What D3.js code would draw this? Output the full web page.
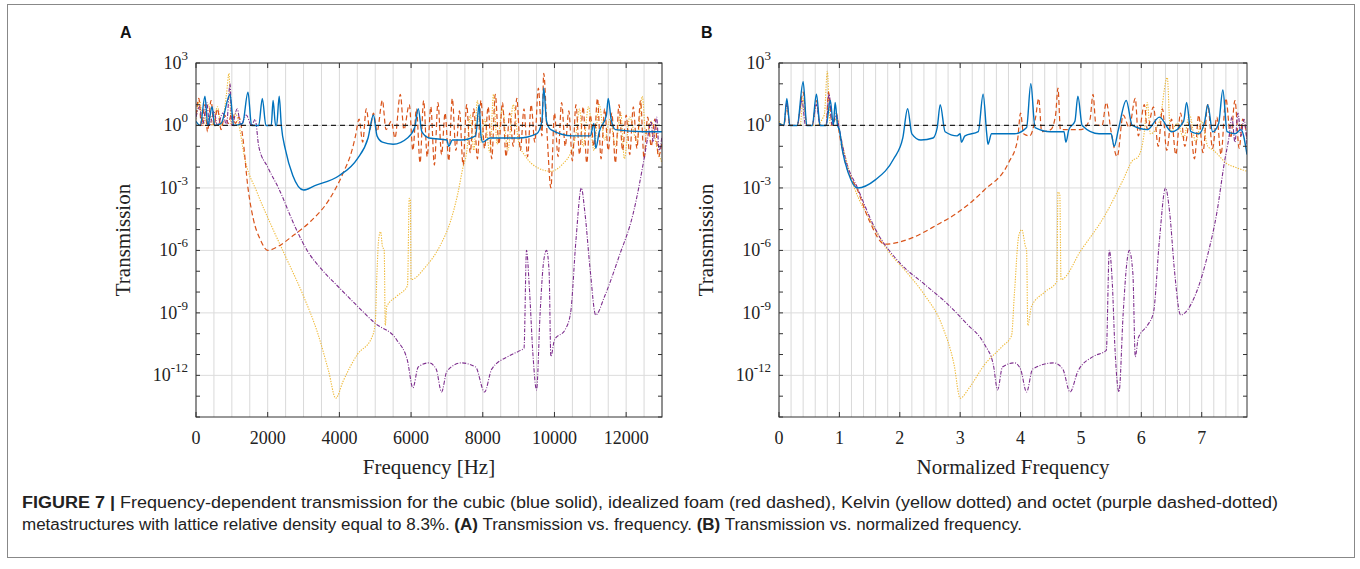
<!DOCTYPE html>
<html><head><meta charset="utf-8">
<script src="https://cdn.jsdelivr.net/npm/d3@7"></script>
<style>body{margin:0;background:#fff}</style>
</head><body>
<svg id="c" width="1360" height="569"></svg>
<script>
// ---------- DATA (x, log10 transmission) ----------
const yTickExps = [3, 0, -3, -6, -9, -12];
const xTicksA = [0, 2000, 4000, 6000, 8000, 10000, 12000];
const xTicksB = [0, 1, 2, 3, 4, 5, 6, 7];

const cubicA = [[0,0.2],[120,0],[250,1.4],[330,0],[450,0.9],[520,0],[700,0.1],[950,1.5],[1050,0],[1300,0.1],[1450,1.6],[1550,0],[1750,0],[1850,1.3],[1950,0],[2100,0],[2150,1.2],[2220,0],[2250,0],[2320,1.4],[2380,0],[2500,-1.2],[2700,-2.4],[3000,-3.1],[3300,-2.9],[4000,-2.4],[4500,-1.6],[4800,-0.6],[4950,0.5],[5050,-0.5],[5200,-0.8],[5500,-0.9],[5900,-0.6],[6100,-0.1],[6200,0.8],[6300,-0.3],[6500,-0.6],[7000,-0.7],[7050,-1.0],[7150,-0.7],[7400,-0.7],[7800,-0.5],[7900,1.0],[7950,-0.5],[8000,-0.8],[8200,-0.6],[9000,-0.6],[9500,-0.4],[9650,0.2],[9700,1.8],[9780,0.2],[9900,-0.2],[10500,-0.5],[11000,-0.5],[11100,0.1],[11150,-1.1],[11250,-0.3],[11450,0.5],[11500,1.3],[11580,0.3],[11700,-0.2],[12500,-0.3],[13000,-0.3]];

const foamA = [[0,0.5],[80,1.3],[150,0],[250,1],[320,-0.3],[420,1.2],[500,0],[600,0.8],[700,-0.2],[800,0.5],[900,0.1],[1000,0.6],[1100,0.1],[1200,0.4],[1300,-0.5],[1450,-3],[1600,-4.5],[1800,-5.5],[2000,-6],[2300,-5.8],[2700,-5.3],[3200,-4.6],[3700,-3.6],[4100,-2.3],[4350,-1.2],[4450,-0.5],[4550,0.3],[4650,-0.8],[4750,0.8],[4850,-0.2],[4950,0.6],[5050,-0.3],[5200,1.2],[5300,-0.2],[5450,0.2],[5550,-0.6],[5700,1.5],[5800,-0.2],[5950,1.0],[6050,-1.2],[6150,0.8],[6250,-1.8],[6350,1.2],[6450,-1.5],[6550,0.9],[6650,-1.9],[6750,1.1],[6850,-1.4],[6950,0.6],[7050,-1.7],[7150,1.3],[7250,-1.2],[7350,0.7],[7450,-1.9],[7550,1.0],[7650,-1.3],[7750,0.8],[7850,-1.6],[7950,1.2],[8050,-1.1],[8150,0.9],[8250,-1.6],[8350,1.5],[8450,-0.9],[8550,1.1],[8650,-1.5],[8750,0.6],[8850,-1.0],[8950,1.3],[9050,-1.2],[9150,0.8],[9250,-1.5],[9350,1.0],[9450,-0.8],[9550,1.8],[9650,-0.5],[9700,2.5],[9800,-0.6],[9900,-3.0],[10000,0.6],[10100,-1.5],[10200,1.1],[10300,-1.0],[10400,0.7],[10500,-1.7],[10600,1.0],[10700,-1.4],[10800,0.9],[10900,-1.8],[11000,0.5],[11100,-1.0],[11200,1.3],[11300,-1.6],[11400,0.8],[11500,-1.2],[11600,0.6],[11700,-1.8],[11800,1.0],[11900,-1.2],[12000,0.5],[12100,-1.4],[12200,0.9],[12300,-1.1],[12400,1.2],[12500,-1.6],[12600,0.4],[12700,-1.0],[12800,0.3],[12900,-1.5],[13000,-0.8]];

const kelvinA = [[0,0.3],[100,1.2],[200,0],[350,1],[450,0],[600,0.9],[700,0],[850,1.5],[920,2.5],[980,0],[1100,0.6],[1200,0],[1350,-1.5],[1700,-3.2],[2100,-4.8],[2500,-6.3],[3000,-8.2],[3400,-10],[3700,-11.8],[3900,-13.1],[4100,-12.3],[4500,-11],[4900,-10.2],[5000,-9.5],[5050,-7],[5100,-5.4],[5150,-5.1],[5200,-5.8],[5250,-6],[5280,-9.6],[5320,-8.7],[5600,-8.2],[5900,-7.7],[5950,-3.5],[5980,-3.6],[6000,-7.4],[6400,-6.8],[6800,-5.8],[7100,-4.6],[7300,-3.3],[7450,-2],[7550,-1.3],[7650,0.5],[7750,-1.2],[7850,1.2],[7950,-0.8],[8050,0.3],[8200,-1.3],[8300,1.5],[8400,-0.9],[8550,0.8],[8700,-1.2],[8850,1.0],[9000,-0.8],[9200,-1.5],[9500,-2],[9900,-2.2],[10200,-1.9],[10500,-1.1],[10600,-0.4],[10700,0.8],[10800,-1.0],[10950,0.9],[11100,-1.2],[11250,1.0],[11400,-0.7],[11550,0.3],[11700,-1.0],[11850,0.6],[11950,-1.6],[12100,0.4],[12300,-0.8],[12450,1.4],[12550,-0.5],[12700,0.2],[12850,-1.0],[13000,-1.8]];

const octetA = [[0,0.4],[100,0.9],[180,0],[300,1.1],[380,0],[500,0.7],[600,0],[750,0.6],[850,0],[950,2.0],[1000,0],[1150,0.8],[1250,0],[1400,0.5],[1550,0],[1650,0.3],[1750,-1],[2000,-2],[2300,-3],[2800,-5],[3100,-6],[3500,-6.9],[4000,-7.8],[4400,-8.5],[5000,-9.5],[5600,-10.3],[5900,-11.3],[6050,-12.6],[6200,-11.6],[6500,-11.4],[6700,-11.7],[6850,-12.8],[7000,-11.8],[7400,-11.4],[7800,-11.6],[8050,-12.8],[8250,-11.7],[8700,-11.1],[9050,-10.8],[9150,-10.7],[9220,-6.0],[9300,-7.8],[9400,-11],[9500,-12.7],[9600,-9],[9700,-6.5],[9780,-6],[9850,-7],[9900,-11.1],[10000,-10.3],[10300,-9.8],[10450,-9],[10600,-5.5],[10750,-3],[10850,-4.2],[11000,-7],[11150,-9.1],[11400,-8.2],[11800,-6.3],[12200,-4.2],[12500,-1.6],[12600,-0.6],[12700,0.2],[12750,-0.8],[12850,0.4],[12920,-1.2],[13000,-0.5]];

const cubicB = [[0,0.1],[0.08,0],[0.13,1.3],[0.18,0],[0.3,0],[0.4,2.1],[0.46,0],[0.55,0],[0.62,1.5],[0.68,0],[0.78,0],[0.85,1.2],[0.9,0],[0.93,1.1],[0.97,0],[1.0,-0.2],[1.05,-1.2],[1.15,-2.3],[1.3,-3.0],[1.6,-2.6],[1.9,-1.6],[2.05,-0.6],[2.13,0.8],[2.2,-0.4],[2.35,-0.7],[2.55,-0.6],[2.62,-0.1],[2.67,1.0],[2.75,-0.3],[2.95,-0.5],[3.0,-0.4],[3.02,-0.8],[3.08,-0.5],[3.3,-0.3],[3.38,1.5],[3.44,-0.4],[3.46,-0.9],[3.52,-0.4],[3.9,-0.4],[4.1,-0.1],[4.17,2.0],[4.24,-0.1],[4.5,-0.3],[4.72,-0.3],[4.75,-0.8],[4.8,-0.2],[4.9,0.2],[4.95,1.4],[5.02,0],[5.3,-0.4],[5.5,-0.4],[5.55,-1.0],[5.62,-0.2],[5.75,1.2],[5.85,0],[6.1,-0.2],[6.3,0.4],[6.5,-0.3],[6.7,0.2],[6.75,1.1],[6.82,-0.3],[6.95,-0.4],[7.05,0.2],[7.1,1.0],[7.18,-0.3],[7.28,0.1],[7.35,1.7],[7.42,-0.3],[7.55,-0.4],[7.65,-0.2],[7.75,-1.4]];

const foamB = [[0,0.1],[0.08,0],[0.13,1.0],[0.18,0],[0.3,0],[0.4,1.6],[0.46,0],[0.55,0],[0.62,1.2],[0.68,0],[0.78,0],[0.82,1.6],[0.88,0],[0.95,0.6],[1.0,-0.4],[1.1,-1.8],[1.3,-3.1],[1.5,-4.6],[1.75,-5.7],[2.2,-5.4],[2.6,-4.8],[3.0,-4.1],[3.4,-3.1],[3.8,-1.8],[3.95,-0.7],[4.0,0.6],[4.05,-0.4],[4.15,-0.5],[4.25,0.4],[4.3,1.3],[4.35,-0.3],[4.5,-0.2],[4.58,0.5],[4.62,1.8],[4.66,-0.2],[5.0,-0.2],[5.15,0.3],[5.2,1.5],[5.25,0],[5.35,0],[5.42,1.1],[5.5,-0.3],[5.6,-1.5],[5.7,0.5],[5.8,-0.1],[5.9,1.3],[5.95,-0.5],[6.05,1.0],[6.1,-0.2],[6.2,0.9],[6.28,-1.0],[6.35,0.8],[6.42,-1.2],[6.5,0.3],[6.57,-1.4],[6.65,0.6],[6.72,-1.0],[6.8,0.2],[6.88,-1.6],[6.95,0.5],[7.02,-1.3],[7.1,1.0],[7.18,-1.1],[7.25,0.4],[7.32,-1.4],[7.4,1.3],[7.48,-0.6],[7.55,1.2],[7.62,-1.1],[7.68,0.3],[7.75,-0.6]];

const kelvinB = [[0,0.2],[0.08,0],[0.13,1.0],[0.18,0],[0.35,0],[0.4,1.3],[0.46,0],[0.6,0],[0.75,0.5],[0.8,2.6],[0.85,0],[0.95,0.3],[1.0,-0.3],[1.1,-1.5],[1.25,-3.0],[1.5,-4.5],[1.8,-6.0],[2.1,-7.0],[2.4,-8.1],[2.7,-9.6],[2.9,-11.5],[3.0,-13.1],[3.15,-12.6],[3.4,-11.5],[3.7,-10.6],[3.85,-10.1],[3.9,-8],[3.97,-5.3],[4.02,-5.0],[4.08,-5.8],[4.1,-6],[4.12,-9.6],[4.18,-8.7],[4.4,-8.0],[4.6,-7.5],[4.62,-3.2],[4.65,-3.3],[4.67,-7.4],[5.0,-6.0],[5.4,-4.3],[5.7,-2.6],[5.85,-1.7],[5.95,-1.5],[6.05,-0.3],[6.1,1.1],[6.15,-0.4],[6.3,0.2],[6.43,2.3],[6.48,-0.3],[6.6,0.1],[6.7,-0.6],[6.8,0.5],[6.9,-0.8],[7.0,0.2],[7.1,-1.0],[7.2,-1.2],[7.3,-1.5],[7.4,-1.8],[7.55,-2.0],[7.75,-2.2]];

const octetB = [[0,0.1],[0.08,0],[0.13,1.1],[0.18,0],[0.3,0],[0.38,1.2],[0.44,0],[0.55,0],[0.62,1.0],[0.68,0],[0.78,0],[0.83,1.5],[0.88,0],[0.95,0.5],[1.0,-0.2],[1.1,-1.6],[1.3,-3],[1.6,-5],[2.0,-6.6],[2.4,-7.6],[2.8,-8.6],[3.1,-9.5],[3.4,-10.5],[3.55,-11.5],[3.62,-12.7],[3.7,-11.6],[3.9,-11.4],[4.0,-11.7],[4.1,-12.8],[4.2,-11.7],[4.55,-11.4],[4.7,-11.7],[4.82,-12.8],[4.95,-11.8],[5.2,-11.1],[5.42,-10.8],[5.47,-6.0],[5.52,-7.6],[5.56,-10.5],[5.63,-12.8],[5.7,-9],[5.76,-6.6],[5.8,-6.0],[5.86,-7.1],[5.9,-11.1],[5.95,-10.2],[6.1,-9.6],[6.2,-9.0],[6.3,-5.5],[6.4,-3.0],[6.47,-4.2],[6.55,-7],[6.65,-9.1],[6.9,-8.1],[7.1,-6.2],[7.25,-4.2],[7.38,-1.7],[7.45,-0.6],[7.5,0.4],[7.55,-0.8],[7.6,0.6],[7.65,-0.5],[7.7,0.3],[7.75,-0.9]];

// ---------- DRAW ----------
const svg = d3.select('#c');
const serif = '"Liberation Serif","Times New Roman",serif';
const sans = '"Liberation Sans",Arial,sans-serif';

svg.append('rect').attr('x',7.5).attr('y',4.5).attr('width',1347).attr('height',553)
  .attr('fill','none').attr('stroke','#888').attr('stroke-width',1);

const series = [
  {key:'kelvin', color:'#EDB120', dash:'1.3,1.3', w:1.1, op:0.9},
  {key:'foam', color:'#D95319', dash:'5,3', w:1.2, op:1},
  {key:'octet', color:'#7E2F8E', dash:'4,1.5,1,1.5', w:1.1, op:1},
  {key:'cubic', color:'#0072BD', dash:null, w:1.4, op:1},
];

function panel(o){
  const x = d3.scaleLinear().domain(o.xdom).range([o.x0,o.x1]);
  const y = d3.scaleLinear().domain([-14,3]).range([417,63]);
  const g = svg.append('g');
  d3.range(o.xdom[0], o.xdom[1]+1e-9, o.gridStep).forEach(v=>{
    g.append('line').attr('x1',x(v)).attr('x2',x(v)).attr('y1',63).attr('y2',417)
      .attr('stroke','#d9d9d9').attr('stroke-width',1);
  });
  yTickExps.forEach(e=>{
    g.append('line').attr('x1',o.x0).attr('x2',o.x1).attr('y1',y(e)).attr('y2',y(e))
      .attr('stroke','#dcdcdc').attr('stroke-width',1);
  });
  const cid='clip'+o.name;
  svg.append('clipPath').attr('id',cid).append('rect').attr('x',o.x0).attr('y',63).attr('width',o.x1-o.x0).attr('height',354);
  const line = d3.line().x(d=>x(d[0])).y(d=>y(d[1])).curve(d3.curveMonotoneX);
  const lg = g.append('g').attr('clip-path',`url(#${cid})`);
  series.forEach(s=>{
    lg.append('path').attr('d',line(o.data[s.key])).attr('fill','none')
      .attr('stroke',s.color).attr('stroke-width',s.w).attr('opacity',s.op)
      .attr('stroke-dasharray',s.dash).attr('stroke-linejoin','round');
  });
  lg.append('line').attr('x1',o.x0).attr('x2',o.x1).attr('y1',y(0)).attr('y2',y(0))
    .attr('stroke','#222').attr('stroke-width',1.2).attr('stroke-dasharray','5,4');
  g.append('rect').attr('x',o.x0).attr('y',63).attr('width',o.x1-o.x0).attr('height',354)
    .attr('fill','none').attr('stroke','#333').attr('stroke-width',1);
  d3.range(-14,4).forEach(e=>{
    g.append('line').attr('x1',o.x0).attr('x2',o.x0+4).attr('y1',y(e)).attr('y2',y(e)).attr('stroke','#333');
    g.append('line').attr('x1',o.x1).attr('x2',o.x1-4).attr('y1',y(e)).attr('y2',y(e)).attr('stroke','#333');
  });
  yTickExps.forEach(e=>{
    const t = g.append('text').attr('x',o.x0-8).attr('y',y(e)+6).attr('text-anchor','end')
      .attr('font-family',serif).attr('font-size',18).attr('fill','#222');
    t.append('tspan').text('10');
    t.append('tspan').attr('dy',-9).attr('font-size',13).text(e);
  });
  o.xticks.forEach(v=>{
    g.append('line').attr('x1',x(v)).attr('x2',x(v)).attr('y1',417).attr('y2',412).attr('stroke','#333');
    g.append('line').attr('x1',x(v)).attr('x2',x(v)).attr('y1',63).attr('y2',68).attr('stroke','#333');
    g.append('text').attr('x',x(v)).attr('y',444).attr('text-anchor','middle')
      .attr('font-family',serif).attr('font-size',18).attr('fill','#222').text(v);
  });
  g.append('text').attr('x',(o.x0+o.x1)/2).attr('y',474).attr('text-anchor','middle')
    .attr('font-family',serif).attr('font-size',21).attr('fill','#222').text(o.xlabel);
  g.append('text').attr('transform',`translate(${o.x0-66},240) rotate(-90)`).attr('text-anchor','middle')
    .attr('font-family',serif).attr('font-size',21).attr('fill','#222').text('Transmission');
  g.append('text').attr('x',o.lx).attr('y',38).attr('font-family',sans).attr('font-weight','bold')
    .attr('font-size',16).attr('fill','#111').text(o.name);
}

panel({name:'A', xdom:[0,13000], x0:196, x1:662, gridStep:500, xticks:xTicksA, xlabel:'Frequency [Hz]', lx:120,
  data:{cubic:cubicA, foam:foamA, kelvin:kelvinA, octet:octetA}});
panel({name:'B', xdom:[0,7.75], x0:779, x1:1247, gridStep:0.2, xticks:xTicksB, xlabel:'Normalized Frequency', lx:701,
  data:{cubic:cubicB, foam:foamB, kelvin:kelvinB, octet:octetB}});

const mk = (y, len, parts) => {
  const t = svg.append('text').attr('x',22).attr('y',y).attr('font-family',sans).attr('font-size',16)
    .attr('fill','#222').attr('textLength',len).attr('lengthAdjust','spacingAndGlyphs');
  parts.forEach(([s,b])=>t.append('tspan').attr('font-weight',b?'bold':null).text(s));
};
mk(508, 1256, [['FIGURE 7 | ',1],['Frequency-dependent transmission for the cubic (blue solid), idealized foam (red dashed), Kelvin (yellow dotted) and octet (purple dashed-dotted)',0]]);
mk(530, 1000, [['metastructures with lattice relative density equal to 8.3%. ',0],['(A)',1],[' Transmission vs. frequency. ',0],['(B)',1],[' Transmission vs. normalized frequency.',0]]);
</script>
</body></html>
